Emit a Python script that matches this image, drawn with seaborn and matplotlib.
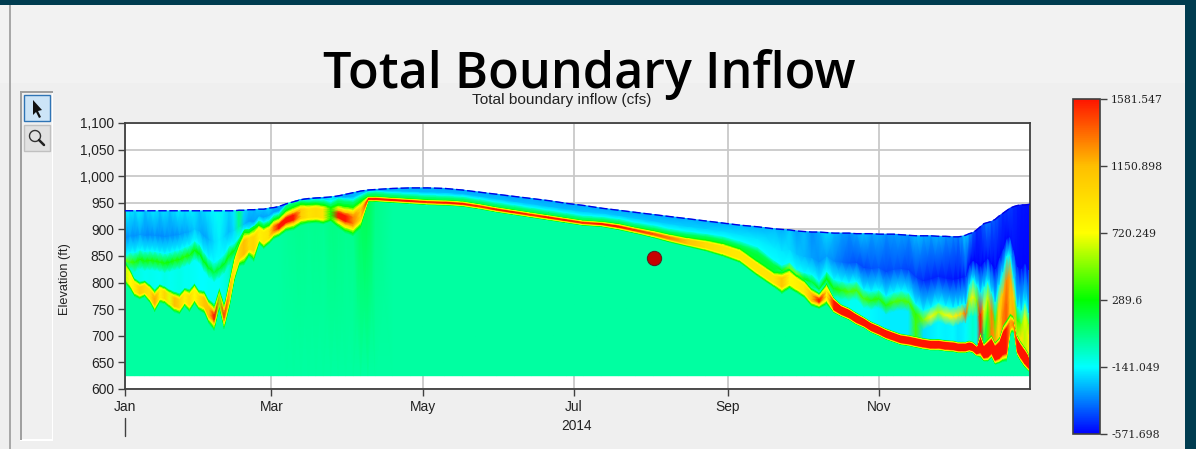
import numpy as np
import pandas as pd
import matplotlib
matplotlib.use("Agg")
import matplotlib.pyplot as plt
from matplotlib.colors import LinearSegmentedColormap, Normalize
from matplotlib.patches import Rectangle, Polygon
from matplotlib.lines import Line2D
import seaborn as sns

days = [0,2,4,6,8,10,12,14,16,18,20,22,24,26,28,30,32,34,36,38,40,42,44,46,48,50,52,54,56,58,60,62,
        65,68,71,74,77,80,83,86,89,92,95,98,101,
        108,115,122,129,136,143,150,157,164,171,178,185,192,199,206,213,220,227,234,241,248,255,262,
        265,268,271,274,277,280,283,286,289,292,295,298,301,304,307,310,313,316,319,322,325,328,331,334,
        336,337.5,339,340.5,342,343.5,345,346.5,348,349.5,351,352.5,354,355.5,357,358.5,360,361.5,363,364.5,365]
surface = [935,935,935,935,935,935,935,935,935,935,935,935,935,935,935,935,935,935,935,935,935,935,935,936,936,937,937,938,938,940,941,943,
           948,952,956,958,959,960,961,963,966,969,972,974,975,
           977,978,978,977,974,970,966,962,958,954,949,945,940,936,932,928,924,920,916,912,908,905,901,
           900,899,897,896,895,895,894,893,893,893,892,892,892,891,891,891,890,889,888,888,888,887,887,886,
           886,887,889,892,894,899,905,911,913,915,919,925,930,935,940,943,945,946,946,947,947]
plume = [820,808,791,786,789,780,767,780,777,770,764,761,773,767,780,767,764,745,736,773,739,780,827,855,867,874,874,892,886,892,902,906,
         918,923,930,931,932,930,930,927,921,918,930,958,958,
         956,954,952,951,949,944,938,933,928,923,918,913,911,906,899,892,884,877,871,863,852,828,806,
         801,808,798,789,773,767,780,758,748,742,733,726,717,711,704,699,694,692,689,686,684,684,682,681,
         679,679,679,681,679,673,684,670,674,681,668,673,686,692,723,723,682,670,660,651,645]
plume_width = [22,20,18,17,16,18,22,18,17,18,20,20,18,22,20,20,22,24,26,20,26,30,26,24,34,26,34,20,22,20,20,20,
               22,24,22,20,20,20,15,24,28,30,28,6,6,
               6,6,6,6,6,6,6,6,6,6,6,6,6,7,7,8,9,10,12,14,15,16,16,
               22,20,18,18,18,16,22,15,12,12,12,11,11,11,11,11,11,11,11,11,11,11,11,11,
               11,11,11,11,11,11,25,18,22,22,22,25,35,40,20,15,20,20,20,18,14]
plume_peak = [600,720,850,1050,950,900,1200,800,1000,680,1150,1000,800,950,750,950,1100,1150,1581,520,1450,1150,800,1000,1150,950,1000,800,850,900,1300,1581,
              1581,1581,1050,900,950,900,320,1581,1581,1300,1000,1581,1581,
              1581,1581,1500,1581,1581,1500,1581,1581,1500,1581,1581,1500,1581,1581,1500,1400,1300,1100,950,900,850,880,900,
              1100,750,800,850,1150,1581,750,1581,1581,1581,1581,1581,1581,1581,1581,1581,1581,1581,1581,1581,1581,1581,1581,1581,
              1581,1581,1581,1581,1581,1581,1581,1581,1581,1581,1581,1581,1581,1581,1200,1300,1581,1581,1581,1581,1581]
gap = [150,-20,-90,-100,-120,-110,-120,-130,-100,-120,-110,-100,-120,-120,-130,-140,-140,-130,-130,-130,-100,-50,100,150,150,150,150,150,150,150,150,150,
       150,150,150,150,150,150,150,150,150,150,150,150,150,
       150,150,150,150,150,150,150,150,150,150,150,150,150,150,150,170,180,200,200,200,200,200,200,
       100,150,150,100,0,-100,100,-50,-80,-120,-120,-130,-150,-160,-170,-170,-170,-170,400,-190,-170,-150,-160,-150,
       -180,-170,-150,-100,-50,-100,1581,100,400,1300,1200,900,1300,1400,1100,1200,600,900,600,800,800]
band = [833,839,839,844,841,842,841,839,837,839,842,844,849,852,861,855,839,827,820,827,836,852,861,874,883,892,892,910,906,910,920,924,
        945,950,953,952,953,952,948,955,953,952,960,967,968,
        966,964,962,961,959,954,948,943,938,933,928,923,921,917,910,904,897,892,888,882,872,860,834,
        823,827,811,805,802,789,808,789,786,783,786,770,767,770,758,764,767,764,742,730,736,745,739,736,
        739,742,742,767,773,767,742,748,773,748,729,761,780,805,811,773,729,723,736,723,723]
band_peak = [500,400,350,330,320,340,330,340,320,310,340,330,350,330,310,290,290,250,200,220,260,320,300,300,280,250,200,200,200,200,150,150,
             100,100,100,100,100,100,100,100,100,100,100,100,100,
             50,50,50,50,50,50,50,50,50,50,50,50,50,50,50,60,60,80,100,100,100,120,150,
             300,500,500,300,200,250,300,320,370,420,420,420,370,370,350,420,420,420,370,500,750,600,700,800,
             900,1000,1400,600,800,500,1581,700,600,1300,400,1000,1100,1300,1200,1000,350,500,700,500,450]
band_width = [18,18,18,18,18,18,18,18,18,18,18,18,18,18,18,18,18,18,18,18,18,18,13,12,10,10,9,8,8,8,8,7,
              5,5,5,5,5,5,5,5,5,5,5,5,5,
              4,4,4,4,4,4,4,4,4,4,4,4,4,4,4,5,5,5,5,6,7,8,8,
              10,12,14,14,14,14,14,17,17,17,17,17,17,17,17,18,18,18,18,18,18,18,18,18,
              18,18,18,30,35,30,40,45,30,35,35,35,40,45,40,35,25,25,30,20,20]
upper = [-320,-310,-330,-300,-330,-340,-320,-340,-330,-320,-330,-310,-300,-280,-230,-270,-300,-260,-200,-160,-210,-260,-200,50,-250,-300,-300,-280,-300,-280,-300,-300,
         -240,-260,-240,-280,-260,-280,-130,-250,-280,-260,-240,-260,-270,
         -250,-250,-260,-250,-260,-250,-240,-250,-240,-250,-250,-240,-230,-240,-230,-240,-220,-220,-220,-200,-190,-180,-170,
         -180,-200,-240,-260,-300,-320,-300,-340,-380,-420,-430,-450,-430,-420,-450,-430,-440,-460,-470,-500,-510,-510,-520,-530,
         -540,-540,-500,-560,-560,-560,-560,-560,-540,-560,-560,-560,-550,-560,-540,-540,-560,-560,-560,-560,-560]
top = [-150,-170,-210,-150,-240,-200,-170,-230,-180,-240,-190,-160,-200,-170,-180,-240,-200,-170,-150,-120,-170,-220,-170,80,-200,-240,-260,-220,-240,-200,-280,-300,
       -260,-240,-270,-250,-280,-260,-150,-280,-290,-270,-260,-250,-260,
       -280,-290,-270,-290,-280,-290,-280,-300,-280,-290,-300,-280,-290,-270,-290,-280,-290,-270,-280,-280,-260,-270,-250,
       -280,-220,-300,-250,-330,-280,-200,-260,-300,-330,-290,-240,-300,-280,-330,-310,-300,-330,-250,-280,-300,-270,-320,-340,
       -360,-300,-220,-300,-420,-500,-480,-400,-350,-420,-420,-450,-500,-480,-470,-500,-520,-540,-540,-550,-560]
deep = [20,20,20,20,20,20,20,20,20,20,20,20,20,20,20,20,20,20,20,20,20,20,20,20,20,20,20,20,20,20,20,20,
        30,40,50,40,50,40,70,60,50,50,130,160,60,
        20,20,20,20,20,20,20,20,20,20,20,20,20,20,20,20,20,20,20,20,20,20,20,
        20,20,20,20,20,20,20,20,20,20,20,20,20,20,20,20,20,20,20,20,20,20,20,20,
        20,20,20,20,20,20,20,20,20,20,20,20,20,20,20,20,20,20,20,20,20]

month_days = [0, 59, 120, 181, 243, 304]
month_labels = ["Jan", "Mar", "May", "Jul", "Sep", "Nov"]
elev_ticks = [600, 650, 700, 750, 800, 850, 900, 950, 1000, 1050, 1100]
cbar_ticks = [-571.698, -141.049, 289.6, 720.249, 1150.898, 1581.547]
cbar_labels = ["-571.698", "-141.049", "289.6", "720.249", "1150.898", "1581.547"]
gauge_day = [213.3]
gauge_elev = [846]
bed_elev = 625

sns.set_theme(style="white")
plt.rcParams["font.family"] = ["Liberation Sans", "DejaVu Sans"]
W, H = 1196, 449
fig = plt.figure(figsize=(W / 100, H / 100), dpi=100, facecolor="#efefef")

def px_rect(x0, y0, x1, y1, **kw):
    fig.add_artist(Rectangle((x0 / W, 1 - y1 / H), (x1 - x0) / W, (y1 - y0) / H,
                             transform=fig.transFigure, **kw))

# window chrome
px_rect(0, 0, W, 83, fc="#f2f2f2", ec="none")
px_rect(0, 0, W, 5, fc="#003c50", ec="none")
px_rect(1185, 0, W, H, fc="#003c50", ec="none")
px_rect(9, 5, 11, H, fc="#a8a8a8", ec="none")
px_rect(20, 92, 53, 441, fc="white", ec="none")
px_rect(21, 92, 52, 439, fc="#f0f0f0", ec="none")
px_rect(20, 92, 22, 440, fc="#a0a0a0", ec="none")
px_rect(20, 91, 53, 93, fc="#a0a0a0", ec="none")
px_rect(23.5, 94.5, 49.5, 121, fc="#cce4f7", ec="#2f74b5", lw=1)
px_rect(23.5, 124.5, 49.5, 151, fc="#e1e1e1", ec="#c0c0c0", lw=1)
arrow = np.array([[33, 100], [33, 115], [36, 112], [39, 118], [41, 117], [38, 111], [42, 110]], float)
fig.add_artist(Polygon(np.c_[arrow[:, 0] / W, 1 - arrow[:, 1] / H], closed=True, fc="#111111", ec="none",
                       transform=fig.transFigure))
theta = np.linspace(0, 2 * np.pi, 40)
fig.add_artist(Line2D((35 + 5.5 * np.cos(theta)) / W, 1 - (136 + 5.5 * np.sin(theta)) / H, color="#333333", lw=1,
                      transform=fig.transFigure))
fig.add_artist(Line2D([39 / W, 44 / W], [1 - 140 / H, 1 - 145 / H], color="#222222", lw=1.8,
                      transform=fig.transFigure))

ax = fig.add_axes([125 / W, 1 - 389 / H, 905 / W, 266 / H], facecolor="white")

stops = [(0.0, (0, 0, 1)), (0.2, (0, 1, 1)), (0.4, (0, 1, 0)),
         (0.6, (1, 1, 0)), (0.8, (1, 0.75, 0)), (1.0, (1, 0.08, 0))]
cmap = LinearSegmentedColormap.from_list("inflow", stops, N=512)
norm = Normalize(cbar_ticks[0], cbar_ticks[-1])

d = np.array(days, float)
s, p, w = np.array(surface, float), np.array(plume, float), np.array(plume_width, float)
pk, g, b = np.array(plume_peak, float), np.array(gap, float), np.array(band, float)
bp, bw = np.array(band_peak, float), np.array(band_width, float)
one = np.ones_like(d)
core = np.where((d >= 285) & (pk >= 1500), 0.6, 0.2) * w
edge = w - core
z = [bed_elev * one, p - w, p - core - .75 * edge, p - core - .5 * edge, p - core - .25 * edge, p - core,
     p + core, p + core + .25 * edge, p + core + .5 * edge, p + core + .75 * edge, p + w,
     b - bw, b, b + bw, b + bw + .4 * np.maximum(s - b - bw, 0), s]
v = [20 * one, np.array(deep, float), np.minimum(289.6, pk), np.minimum(720.2, pk), np.minimum(1150.9, pk), pk,
     pk, np.minimum(1150.9, pk), np.minimum(720.2, pk), np.minimum(289.6, pk), g,
     g, bp, -141 * one, np.array(upper, float), np.array(top, float)]
Z = np.maximum.accumulate(np.array(z), axis=0)
Z = np.minimum(Z, s)
V = np.array(v)
T = np.tile(d, (Z.shape[0], 1))

ax.grid(True, color="#c9c9c9", lw=1.3)
ax.set_axisbelow(True)
mesh = ax.pcolormesh(T, Z, V, shading="gouraud", cmap=cmap, norm=norm, zorder=2)

frame = pd.DataFrame({"day": days, "surface": surface})
sns.lineplot(data=frame, x="day", y="surface", color="#0000e6", lw=1.0, linestyle=(0, (6, 2)), ax=ax, zorder=3, legend=False)
sns.scatterplot(x=gauge_day, y=gauge_elev, color="#c80000", edgecolor="#5a2020", linewidth=0.8, s=105, ax=ax,
                zorder=4, legend=False)

ax.set_xlim(0, 365)
ax.set_ylim(600, 1100)
ax.set_xticks(month_days, month_labels)
ax.set_yticks(elev_ticks, [f"{t:,}" for t in elev_ticks])
ax.tick_params(axis="both", length=5, width=1, color="#404040", labelsize=9.9, labelcolor="#222222", pad=3, bottom=True, left=True)
ax.set_xlabel("")
ax.set_ylabel("")
for sp in ax.spines.values():
    sp.set_color("#404040")
    sp.set_linewidth(1.3)

fig.text(65 / W, 1 - 279 / H, "Elevation (ft)", rotation=90, ha="center", va="center", fontsize=9.2, color="#222222")
fig.text(562 / W, 1 - 100 / H, "Total boundary inflow (cfs)", ha="center", va="center", fontsize=11.1, color="#222222", zorder=5)
fig.text(576 / W, 1 - 426 / H, "2014", ha="center", va="center", fontsize=9.9, color="#222222")
fig.add_artist(Line2D([125 / W, 125 / W], [1 - 418 / H, 1 - 436 / H], color="#404040", lw=1, transform=fig.transFigure))
fig.text(589 / W, 1 - 75 / H, "Total Boundary Inflow", ha="center", va="center", fontsize=36.3,
         fontweight="semibold", family="Open Sans", color="black")

cax = fig.add_axes([1073 / W, 1 - 434 / H, 27 / W, 335 / H])
cb = fig.colorbar(mesh, cax=cax)
cb.set_ticks(cbar_ticks, labels=cbar_labels)
cb.ax.tick_params(length=5, width=1, color="#404040", labelsize=8.2, labelcolor="#222222", pad=3, right=True)
for lab in cb.ax.get_yticklabels():
    lab.set_family(["DejaVu Serif"])
    lab.set_fontsize(7.8)
cb.outline.set_edgecolor("#404040")
cb.outline.set_linewidth(1.2)

fig.savefig("out.png", dpi=100, facecolor=fig.get_facecolor())
